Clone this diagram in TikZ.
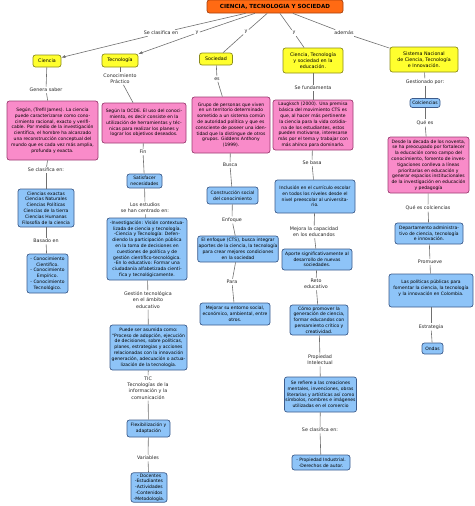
\documentclass[tikz,border=0pt]{standalone}
\usepackage{fontspec}
\setmainfont{DejaVu Sans}
\usetikzlibrary{arrows.meta}

\definecolor{titlefill}{HTML}{FF6A13}
\definecolor{titleline}{HTML}{A8400C}
\definecolor{yelfill}{HTML}{FFFF2E}
\definecolor{yelline}{HTML}{8C8C1A}
\definecolor{pinkfill}{HTML}{F98BC9}
\definecolor{pinkline}{HTML}{9C3C72}
\definecolor{bluefill}{HTML}{8EC4F8}
\definecolor{blueline}{HTML}{3C5C8C}
\definecolor{linkgray}{HTML}{707070}

\begin{document}
\begin{tikzpicture}[
  x=1pt, y=-1pt,
  font=\fontsize{4.5}{5.8}\selectfont,
  concept/.style={rounded corners=2.5pt, line width=0.7pt, align=center, inner sep=1pt},
  titleb/.style={concept, fill=titlefill, draw=titleline,
                 font=\fontsize{5.6}{6.5}\selectfont\bfseries},
  yelb/.style={concept, fill=yelfill, draw=yelline, font=\fontsize{4.8}{5.9}\selectfont},
  pinkb/.style={concept, fill=pinkfill, draw=pinkline},
  blueb/.style={concept, fill=bluefill, draw=blueline},
  lbl/.style={align=center, inner sep=1.2pt, text=black!85,
              font=\fontsize{4.8}{6.2}\selectfont},
  link/.style={draw=linkgray, line width=0.6pt},
  arr/.style={link, -{Latex[length=4pt, width=3.2pt]}},
]
\useasboundingbox (0,0) rectangle (474,506);

% ---- title and first level ----
\node[titleb, minimum width=136, minimum height=13] (title) at (275,6.5) {CIENCIA, TECNOLOGIA Y SOCIEDAD};

\node[yelb, minimum width=28, minimum height=12] (ciencia) at (47,61)    {Ciencia};
\node[yelb, minimum width=36, minimum height=13] (tecno)   at (120,60.5) {Tecnología};
\node[yelb, minimum width=33, minimum height=12] (socie)   at (216,59)   {Sociedad};
\node[yelb, minimum width=60, minimum height=25] (ctsedu)  at (313,60.5) {Ciencia, Tecnología\\y sociedad en la\\educación.};
\node[yelb, minimum width=68, minimum height=25] (sncti)   at (424,59.5) {Sistema Nacional\\de Ciencia, Tecnología\\e Innovación.};

\node[lbl] (lclas) at (161,33) {Se clasifica en};
\node[lbl] (ly1)   at (197,33) {y};
\node[lbl] (ly2)   at (246,32) {y};
\node[lbl] (ly3)   at (294,33) {y};
\node[lbl] (lade)  at (344,33) {además};

\draw[link] (title) -- (lclas);
\draw[arr]  (lclas) -- (ciencia);
\draw[link] (title) -- (ly1);
\draw[arr]  (ly1) -- (tecno);
\foreach \a/\b in {title/ly2, ly2/socie, title/ly3, ly3/ctsedu, title/lade, lade/sncti}
  \draw[link] (\a) -- (\b);

% ---- Ciencia ----
\node[lbl] (cigen) at (46,90) {Genera saber};
\node[pinkb, minimum width=91, minimum height=59] (citref) at (52.5,130.5)
  {Según, (Trefil James). La ciencia\\puede caracterizarse como cono-\\cimiento racional, exacto y verifi-\\cable. Por medio de la investigación\\científica, el hombre ha alcanzado\\una reconstrucción conceptual del\\mundo que es cada vez más amplia,\\profunda y exacta.};
\node[lbl] (ciclas) at (46,170) {Se clasifica en:};
\node[blueb, minimum width=56, minimum height=38] (citipos) at (46,208)
  {Ciencias exactas\\Ciencias Naturales\\Ciencias Políticas\\Ciencias de la tierra\\Ciencias Humanas\\Filosofía de la ciencia};
\node[lbl] (cibas) at (46,241) {Basado en};
\node[blueb, minimum width=41, minimum height=39] (ciconoc) at (47.5,273.5)
  {- Conocimiento\\Científico.\\- Conocimiento\\Empírico.\\- Conocimiento\\Tecnológico.};

\foreach \a/\b in {ciencia/cigen, cigen/citref, citref/ciclas, ciclas/citipos, citipos/cibas, cibas/ciconoc}
  \draw[link] (\a) -- (\b);

% ---- Tecnologia ----
\node[lbl] (teprac) at (120,78.5) {Conocimiento\\Práctico};
\node[pinkb, minimum width=84, minimum height=40] (teocde) at (144,123)
  {Según la OCDE. El uso del conoci-\\miento, es decir consiste en la\\utilización de herramientas y téc-\\nicas para realizar los planes y\\lograr los objetivos deseados.};
\node[lbl] (tefin) at (143,152) {Fin};
\node[blueb, minimum width=35, minimum height=14] (tesat) at (144.5,181) {Satisfacer\\necesidades};
\node[lbl] (teest) at (145,208) {Los estudios\\se han centrado en:};
\node[blueb, minimum width=80, minimum height=62] (teinv) at (147,249)
  {-Investigación: Visión contextua-\\lizada de ciencia y tecnología.\\-Ciencia y Tecnología: Defen-\\diendo la participación pública\\en la toma de decisiones en\\cuestiones de política y de\\gestión científico-tecnológica.\\-En lo educativo: Formar una\\ciudadanía alfabetizada cientí-\\fica y tecnológicamente.};
\node[lbl] (tegest) at (148,300) {Gestión tecnológica\\en el ámbito\\educativo};
\node[blueb, minimum width=77, minimum height=45] (teproc) at (148.5,347.5)
  {Puede ser asumida como:\\``Proceso de adopción, ejecución\\de decisiones, sobre políticas,\\planes, estrategias y acciones\\relacionadas con la innovación\\generación, adecuación o actua-\\lización de la tecnología.};
\node[lbl] (tetic) at (148,388) {TIC\\Tecnologías de la\\información y la\\comunicación};
\node[blueb, minimum width=43, minimum height=17] (teflex) at (148.5,428.5) {Flexibilización y\\adaptación};
\node[lbl] (tevar) at (148,458) {Variables};
\node[blueb, minimum width=36, minimum height=29] (tedoc) at (149,487.5)
  {- Docentes\\-Estudiantes\\-Actividades\\-Contenidos\\-Metodología.};

\foreach \a/\b in {tecno/teprac, teprac/teocde, teocde/tefin, tefin/tesat, tesat/teest, teest/teinv,
                   teinv/tegest, tegest/teproc, teproc/tetic, tetic/teflex, teflex/tevar, tevar/tedoc}
  \draw[link] (\a) -- (\b);

% ---- Sociedad ----
\node[lbl] (soes) at (217,79) {es};
\node[pinkb, minimum width=78, minimum height=56] (sogrupo) at (231,125)
  {Grupo de personas que viven\\en un territorio determinado\\sometido a un sistema común\\de autoridad política y que es\\consciente de poseer una iden-\\tidad que la distingue de otros\\grupos. Giddens Anthony\\(1999).};
\node[lbl] (sobus) at (230,165) {Busca};
\node[blueb, minimum width=51, minimum height=17] (soconst) at (232.5,195.5) {Construcción social\\del conocimiento};
\node[lbl] (soenf) at (232,220) {Enfoque};
\node[blueb, minimum width=76, minimum height=26] (soenfo) at (238,249)
  {El enfoque (CTS), busca integrar\\aportes de la ciencia, la tecnología\\para crear mejores condiciones\\en la sociedad};
\node[lbl] (sopara) at (232,282) {Para};
\node[blueb, minimum width=70, minimum height=22] (somej) at (235,314)
  {Mejorar su entorno social,\\económico, ambiental, entre\\otros.};

\foreach \a/\b in {socie/soes, soes/sogrupo, sogrupo/sobus, sobus/soconst, soconst/soenf, soenf/soenfo,
                   soenfo/sopara, sopara/somej}
  \draw[link] (\a) -- (\b);

% ---- Ciencia, Tecnologia y sociedad en la educacion ----
\node[lbl] (ctfun) at (313,88) {Se fundamenta};
\node[pinkb, minimum width=80, minimum height=50] (ctlaug) at (313,125)
  {Laugksch (2000). Una premisa\\básica del movimiento CTS es\\que, al hacer más pertinente\\la ciencia para la vida cotidia-\\na de los estudiantes, estos\\pueden motivarse, interesarse\\más por el tema y trabajar con\\más ahínco para dominarlo.};
\node[lbl] (ctbasa) at (312,163) {Se basa};
\node[blueb, minimum width=80, minimum height=33] (ctincl) at (315,196.5)
  {Inclusión en el currículo escolar\\en todos los niveles desde el\\nivel preescolar al universita-\\rio.};
\node[lbl] (ctmej) at (314,232) {Mejora la capacidad\\en los educandos};
\node[blueb, minimum width=70, minimum height=21] (ctapor) at (317,259.5)
  {Aporte significativamente al\\desarrollo de nuevas\\sociedades.};
\node[lbl] (ctreto) at (316,284) {Reto\\educativo};
\node[blueb, minimum width=58, minimum height=30] (ctcomo) at (319,320)
  {Cómo promover la\\generación de ciencia,\\formar educandos con\\pensamiento crítico y\\creatividad.};
\node[lbl] (ctprop) at (320,360) {Propiedad\\Intelectual};
\node[blueb, minimum width=71, minimum height=35] (ctref) at (320.5,394.5)
  {Se refiere a las creaciones\\mentales, invenciones, obras\\literarias y artísticas así como\\símbolos, nombres e imágenes\\utilizadas en el comercio};
\node[lbl] (ctclas) at (320,430) {Se clasifica en:};
\node[blueb, minimum width=58, minimum height=15] (ctind) at (321,462.5)
  {- Propiedad Industrial.\\-Derechos de autor.};

\foreach \a/\b in {ctsedu/ctfun, ctfun/ctlaug, ctlaug/ctbasa, ctbasa/ctincl, ctincl/ctmej, ctmej/ctapor,
                   ctapor/ctreto, ctreto/ctcomo, ctcomo/ctprop, ctprop/ctref, ctref/ctclas, ctclas/ctind}
  \draw[link] (\a) -- (\b);

% ---- Sistema Nacional ----
\node[lbl] (sngest) at (425,82) {Gestionado por:};
\node[blueb, minimum width=30, minimum height=9] (sncol) at (425,103) {Colciencias};
\node[lbl] (snque) at (425,123) {Qué es};
\node[pinkb, minimum width=81, minimum height=56] (sndesde) at (428.5,165)
  {Desde la decada de los noventa,\\se ha preocupado por fortalecer\\la educación como campo del\\conocimiento, fomento de inves-\\tigaciones conlleva a líneas\\prioritarias en educación y\\generar espacios institucionales\\de la investigación en educación\\y pedagogía};
\node[lbl] (snquecol) at (428,208) {Qué es colciencias};
\node[blueb, minimum width=68, minimum height=21] (sndepto) at (429,233.5)
  {Departamento administra-\\tivo de ciencia, tecnología\\e innovación.};
\node[lbl] (snprom) at (430,262) {Promueve};
\node[blueb, minimum width=84, minimum height=33] (snpol) at (431,290.5)
  {Las políticas públicas para\\fomentar la ciencia, la tecnología\\y la innovación en Colombia.\\ \mbox{}};
\node[lbl] (snestr) at (431,327) {Estrategia};
\node[blueb, minimum width=21, minimum height=11] (snondas) at (432.5,348.5) {Ondas};

\foreach \a/\b in {sncti/sngest, sngest/sncol, sncol/snque, snque/sndesde, sndesde/snquecol,
                   snquecol/sndepto, sndepto/snprom, snprom/snpol, snpol/snestr, snestr/snondas}
  \draw[link] (\a) -- (\b);

\end{tikzpicture}
\end{document}
